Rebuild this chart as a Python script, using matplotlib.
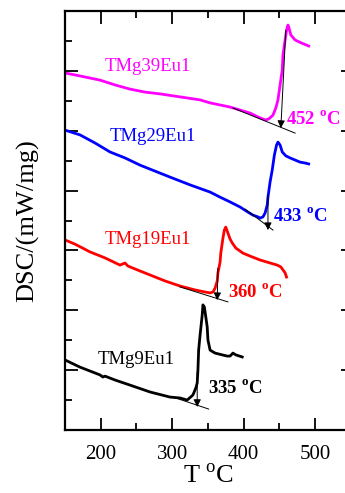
import matplotlib
matplotlib.use('Agg')
import matplotlib.pyplot as plt
from matplotlib.ticker import MultipleLocator

plt.rcParams['font.family'] = ['Liberation Serif', 'DejaVu Serif']
plt.rcParams['mathtext.fontset'] = 'custom'
plt.rcParams['mathtext.rm'] = 'Liberation Serif'
plt.rcParams['mathtext.bf'] = 'Liberation Serif:bold'

# TMg39Eu1 (magenta)
t39 = [150, 171, 199, 220, 241, 262, 283, 311, 339, 353, 381, 395, 409, 420, 430,
       435, 441, 445, 448, 451, 454, 455, 458, 460, 462, 463, 466, 472, 481, 491]
d39 = [11.93, 11.83, 11.69, 11.53, 11.39, 11.29, 11.23, 11.13, 11.03, 10.93, 10.79,
       10.69, 10.59, 10.46, 10.36, 10.39, 10.52, 10.76, 11.03, 11.53, 12.03, 12.53,
       13.03, 13.36, 13.53, 13.47, 13.20, 13.03, 12.93, 12.83]

# TMg29Eu1 (blue)
t29 = [150, 171, 192, 213, 234, 255, 276, 297, 325, 353, 367, 381, 395, 406, 413, 420,
       423, 427, 430, 433, 434, 437, 440, 443, 446, 448, 451, 454, 459, 465, 472, 479, 486, 491]
d29 = [10.02, 9.86, 9.59, 9.29, 9.09, 8.85, 8.65, 8.45, 8.19, 7.95, 7.78, 7.62, 7.45,
       7.28, 7.18, 7.12, 7.08, 7.12, 7.25, 7.52, 7.78, 8.29, 8.69, 9.19, 9.52, 9.62,
       9.52, 9.29, 9.16, 9.09, 9.02, 8.95, 8.92, 8.89]

# TMg19Eu1 (red)
t19 = [150, 164, 185, 206, 227, 234, 238, 248, 269, 290, 311, 332, 346, 353, 357, 360,
       363, 364, 367, 368, 371, 373, 375, 378, 381, 384, 389, 399, 409, 423, 437, 447,
       452, 455, 458, 460]
d19 = [6.35, 6.21, 5.95, 5.75, 5.51, 5.58, 5.48, 5.38, 5.18, 4.98, 4.81, 4.68, 4.61,
       4.58, 4.61, 4.74, 4.98, 5.25, 5.61, 5.91, 6.41, 6.68, 6.78, 6.58, 6.38, 6.25,
       6.08, 5.91, 5.81, 5.68, 5.58, 5.51, 5.45, 5.35, 5.25, 5.11]

# TMg9Eu1 (black)
t9 = [150, 171, 199, 203, 206, 220, 241, 269, 297, 311, 321, 329, 333, 335, 336, 337,
      339, 342, 343, 345, 347, 349, 350, 353, 360, 370, 377, 381, 385, 389, 398]
d9 = [2.34, 2.10, 1.84, 1.77, 1.80, 1.67, 1.50, 1.27, 1.10, 1.07, 1.00, 1.17, 1.40,
      1.57, 2.00, 2.67, 3.17, 3.84, 4.18, 4.11, 3.78, 3.44, 3.01, 2.67, 2.57, 2.51,
      2.47, 2.47, 2.57, 2.51, 2.44]

names = ['TMg39Eu1', 'TMg29Eu1', 'TMg19Eu1', 'TMg9Eu1']
colors = ['#ff00ff', '#0000ff', '#ff0000', '#000000']
name_pos = [(206, 12.13), (213, 9.82), (206, 6.35), (196, 2.37)]

onset = [452, 433, 360, 335]
onset_pos = [(459, 10.39), (441, 7.15), (378, 4.61), (350, 1.40)]
# tangent lines (T0, y0, T1, y1)
tangents = [(385, 10.76, 472, 9.92), (402, 7.38, 441, 6.68),
            (311, 4.78, 378, 4.28), (301, 1.10, 351, 0.70)]
# arrows (T_from, y_from, T_to, y_to)
arrows = [(459, 13.36, 452, 10.09), (434, 7.85, 434, 6.68),
          (364, 5.41, 363, 4.34), (335, 1.94, 335, 0.77)]

fig = plt.figure(figsize=(3.45, 4.93), dpi=100)
ax = fig.add_axes([65/345, 63/493, 288/345, 419/493])

for t, d, c in zip([t39, t29, t19, t9], [d39, d29, d19, d9], colors):
    ax.plot(t, d, color=c, lw=2.0)

for (x0, y0, x1, y1) in tangents:
    ax.plot([x0, x1], [y0, y1], color='k', lw=0.7)
for (x0, y0, x1, y1) in arrows:
    ax.annotate('', xy=(x1, y1), xytext=(x0, y0),
                arrowprops=dict(arrowstyle='-|>', color='k', lw=0.7,
                                mutation_scale=11, shrinkA=0, shrinkB=0))

for n, c, (x, y) in zip(names, colors, name_pos):
    ax.text(x, y, n, color=c, fontsize=13.5, ha='left', va='center')
for v, c, (x, y) in zip(onset, colors, onset_pos):
    ax.text(x, y, '%d $^{\\mathbf{o}}$C' % v, color=c, fontsize=13.5,
            fontweight='bold', ha='left', va='center')

ax.set_xlim(150, 553)
ax.set_ylim(0, 14)
ax.xaxis.set_major_locator(MultipleLocator(100))
ax.xaxis.set_minor_locator(MultipleLocator(50))
ax.yaxis.set_major_locator(MultipleLocator(2))
ax.yaxis.set_minor_locator(MultipleLocator(1))
ax.tick_params(which='both', direction='in', top=True, right=True, width=1.3)
ax.tick_params(which='major', length=9, labelsize=15)
ax.tick_params(which='minor', length=5)
ax.tick_params(axis='x', pad=11)
ax.set_yticklabels([])
for s in ax.spines.values():
    s.set_linewidth(1.6)

ax.set_xlabel('T $^{\\mathrm{o}}$C', fontsize=19, labelpad=0)
ax.set_ylabel('DSC/(mW/mg)', fontsize=19, labelpad=15)

fig.savefig('out.png', dpi=100)
